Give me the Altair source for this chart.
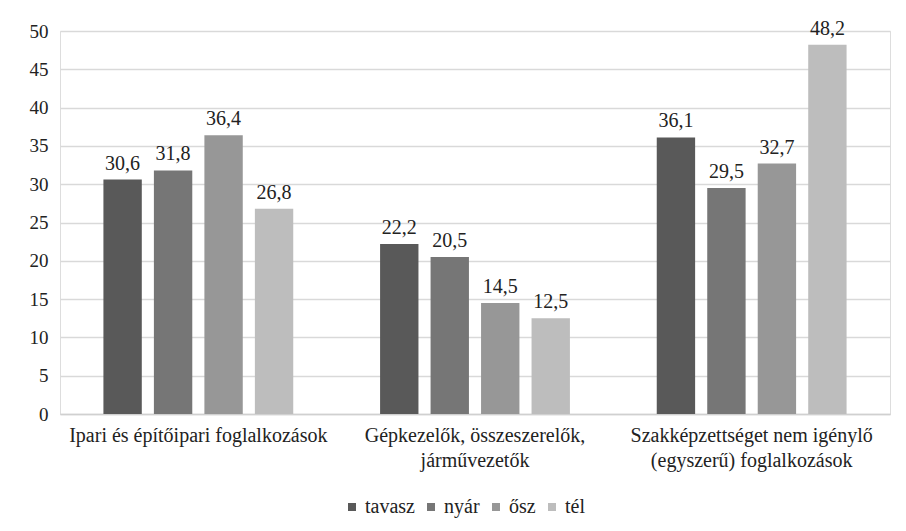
import altair as alt
import pandas as pd

categories = ["Ipari és építőipari foglalkozások",
              "Gépkezelők, összeszerelők,\njárművezetők",
              "Szakképzettséget nem igénylő\n(egyszerű) foglalkozások"]
seasons = ["tavasz", "nyár", "ősz", "tél"]
tavasz = [30.6, 22.2, 36.1]
nyar = [31.8, 20.5, 29.5]
osz = [36.4, 14.5, 32.7]
tel = [26.8, 12.5, 48.2]
colors = ["#595959", "#767676", "#979797", "#bdbdbd"]
y_ticks = [0, 5, 10, 15, 20, 25, 30, 35, 40, 45, 50]

rows = []
for s, vals in zip(seasons, [tavasz, nyar, osz, tel]):
    for c, v in zip(categories, vals):
        rows.append({"cat": c, "season": s, "value": v, "label": f"{v:.1f}".replace(".", ",")})
df = pd.DataFrame(rows)

font = "Liberation Serif"

base = alt.Chart(df).encode(
    x=alt.X("cat:N", sort=categories, title=None,
            scale=alt.Scale(paddingInner=0, paddingOuter=0),
            axis=alt.Axis(labelAngle=0, labelExpr="split(datum.label, '\\n')",
                          ticks=False, domainColor="#d0d0d0", domainWidth=1.5,
                          labelFont=font, labelFontSize=20, labelColor="#222222",
                          labelPadding=11, labelLineHeight=25, labelLimit=400)),
    xOffset=alt.XOffset("season:N", sort=seasons,
                        scale=alt.Scale(paddingInner=0.24, paddingOuter=0.86)),
    y=alt.Y("value:Q", title=None,
            scale=alt.Scale(domain=[0, 50]),
            axis=alt.Axis(values=y_ticks, ticks=False, domain=False,
                          labelOverlap=False,
                          gridColor="#d9d9d9", gridWidth=1.5,
                          labelFont=font, labelFontSize=19, labelColor="#222222",
                          labelPadding=12)),
)

bars = base.mark_bar().encode(
    color=alt.Color("season:N", sort=seasons,
                    scale=alt.Scale(domain=seasons, range=colors),
                    legend=alt.Legend(title=None, orient="none", direction="horizontal",
                                      legendX=282, legendY=466,
                                      symbolType="square", symbolSize=64,
                                      symbolStrokeWidth=0,
                                      labelFont=font, labelFontSize=20,
                                      labelColor="#222222", columnPadding=6,
                                      labelOffset=3)),
)

labels = base.mark_text(dy=-16, font=font, fontSize=20, color="#222222").encode(
    text="label:N",
)

chart = (bars + labels).properties(
    width=830, height=383,
    autosize=alt.AutoSizeParams(type="none"),
    padding={"left": 52, "top": 23, "right": 8, "bottom": 109},
).configure_view(stroke=None).configure(background="white", font=font)

chart.save("out.html", embed_options={"renderer": "svg", "actions": False})
